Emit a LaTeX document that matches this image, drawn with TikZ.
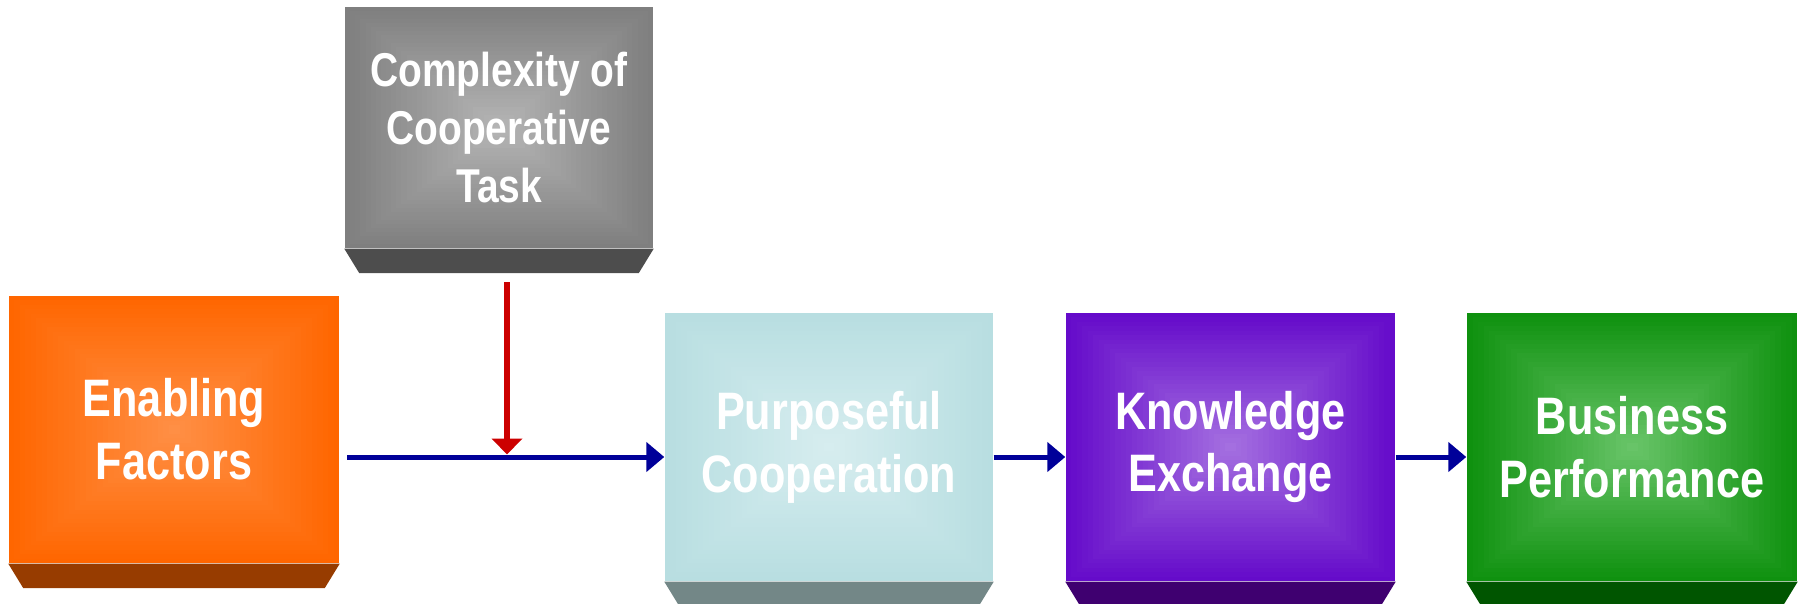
\documentclass[tikz,border=0pt]{standalone}
\usepackage{fontspec}
\setmainfont{Liberation Sans}[FakeStretch=0.82]
\usetikzlibrary{arrows.meta,calc}

\definecolor{cplxout}{HTML}{7F7F7F}
\definecolor{cplxin}{HTML}{B4B4B4}
\definecolor{cplxbase}{HTML}{4D4D4D}
\definecolor{enabout}{HTML}{FF6600}
\definecolor{enabin}{HTML}{FF8F45}
\definecolor{enabbase}{HTML}{973C00}
\definecolor{purpout}{HTML}{B8DEE1}
\definecolor{purpin}{HTML}{D6EDEF}
\definecolor{purpbase}{HTML}{738787}
\definecolor{knowout}{HTML}{650BCA}
\definecolor{knowin}{HTML}{A46FE0}
\definecolor{knowbase}{HTML}{3F0070}
\definecolor{busiout}{HTML}{0F910F}
\definecolor{busiin}{HTML}{68C468}
\definecolor{busibase}{HTML}{005500}
\definecolor{flowblue}{HTML}{000099}
\definecolor{causered}{HTML}{CC0000}

\begin{document}
\begin{tikzpicture}[> = {Triangle[length = 1.8mm, width = 2.9mm]},
	face/.style 2 args = {
		fill = #1, minimum width = 3.3cm, minimum height = 2.68cm, inner sep = 0pt,
		text = white, align = center,
		font = \bfseries\fontsize{15pt}{17.9pt}\selectfont,
		path picture = {
			\foreach \k in {0, ..., 29} {
				\pgfmathsetmacro\shrink{1 - \k/30}
				\pgfmathtruncatemacro\mixpc{100*\k/29}
				\fill [#2!\mixpc!#1]
					($(path picture bounding box.center)!\shrink!(path picture bounding box.south west)$)
					rectangle
					($(path picture bounding box.center)!\shrink!(path picture bounding box.north east)$);
			}
		}
	},
	flow/.style = {->, draw = flowblue, line width = 0.05cm}]
	
	\useasboundingbox (0, 0) rectangle (18.04, -6.03);
	
	% Boxes
	
	\node (cplx) [face = {cplxout}{cplxin}, minimum width = 3.08cm, minimum height = 2.41cm,
		font = \bfseries\fontsize{13.5pt}{16.5pt}\selectfont] at (4.99, -1.275) {Complexity of\\Cooperative\\Task};
	\node (enab) [face = {enabout}{enabin}, minimum height = 2.67cm] at (1.74, -4.295) {Enabling\\Factors};
	\node (purp) [face = {purpout}{purpin}, minimum width = 3.28cm] at (8.29, -4.47) {Purposeful\\Cooperation};
	\node (know) [face = {knowout}{knowin}, minimum width = 3.29cm] at (12.305, -4.47) {Knowledge\\Exchange};
	\node (busi) [face = {busiout}{busiin}] at (16.32, -4.47) {Business\\Performance};
	
	% Bases under the boxes
	
	\foreach \n/\c in {cplx/cplxbase, enab/enabbase, purp/purpbase, know/knowbase, busi/busibase}
		\fill [\c] (\n.south west) -- (\n.south east) -- ++(-0.15, -0.245)
			-- ($(\n.south west) + (0.15, -0.245)$) -- cycle;
	
	% Arrows
	
	\coordinate (start) at (3.47, -4.57);
	\coordinate (drop) at (5.07, -2.82);
	\coordinate (join) at (5.07, -4.545);
	
	\draw [flow] (start) -- (purp.west |- start);
	\draw [flow] (purp.east |- start) -- (know.west |- start);
	\draw [flow] (know.east |- start) -- (busi.west |- start);
	
	\draw [-{Triangle[length = 1.6mm, width = 3mm]}, draw = causered, fill = causered, line width = 0.055cm] (drop) -- (join);

\end{tikzpicture}
\end{document}
